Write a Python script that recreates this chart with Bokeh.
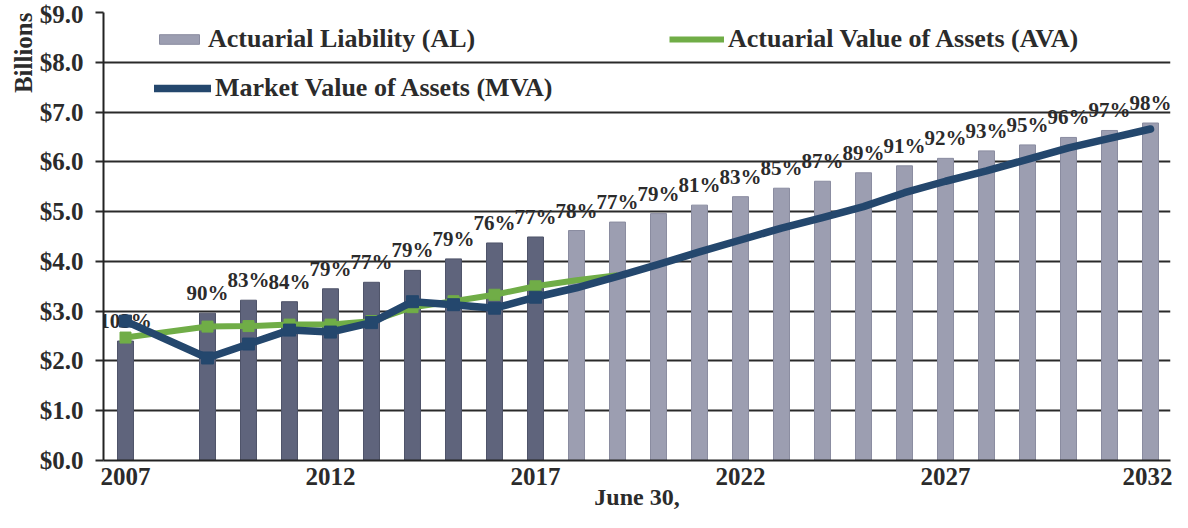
import math
from bokeh.plotting import figure
from bokeh.models import (ColumnDataSource, Range1d, FixedTicker, NumeralTickFormatter,
                          Legend, LegendItem, Title)
from bokeh.core.properties import value
from bokeh.embed import file_html
from bokeh.resources import INLINE

# ---------------- data ----------------
years = [2007, 2009, 2010, 2011, 2012, 2013, 2014, 2015, 2016, 2017, 2018, 2019, 2020,
         2021, 2022, 2023, 2024, 2025, 2026, 2027, 2028, 2029, 2030, 2031, 2032]
al_values = [2.40, 2.96, 3.22, 3.19, 3.45, 3.58, 3.82, 4.05, 4.37, 4.49, 4.62, 4.79, 4.96,
             5.13, 5.30, 5.47, 5.61, 5.78, 5.92, 6.07, 6.22, 6.34, 6.49, 6.63, 6.78]
funded_labels = ["103%", "90%", "83%", "84%", "79%", "77%", "79%", "79%", "76%", "77%",
                 "78%", "77%", "79%", "81%", "83%", "85%", "87%", "89%", "91%", "92%",
                 "93%", "95%", "96%", "97%", "98%"]
mva_values = [2.80, 2.06, 2.34, 2.62, 2.58, 2.77, 3.19, 3.13, 3.06, 3.28, 3.47, 3.70, 3.94,
              4.19, 4.43, 4.67, 4.88, 5.10, 5.38, 5.61, 5.82, 6.05, 6.28, 6.47, 6.66]
ava_years = [2007, 2009, 2010, 2011, 2012, 2013, 2014, 2015, 2016, 2017, 2018, 2019]
ava_values = [2.47, 2.69, 2.70, 2.73, 2.73, 2.80, 3.08, 3.20, 3.33, 3.50, 3.62, 3.72]
last_actual_year = 2017
x_tick_years = [2007, 2012, 2017, 2022, 2027, 2032]
y_ticks = [0, 1, 2, 3, 4, 5, 6, 7, 8, 9]

# ---------------- sources ----------------
hist_idx = [i for i, y in enumerate(years) if y <= last_actual_year]
proj_idx = [i for i, y in enumerate(years) if y > last_actual_year]
src_hist = ColumnDataSource(dict(x=[years[i] for i in hist_idx], al=[al_values[i] for i in hist_idx]))
src_proj = ColumnDataSource(dict(x=[years[i] for i in proj_idx], al=[al_values[i] for i in proj_idx]))
src_lab = ColumnDataSource(dict(x=years, al=al_values, t=funded_labels))
src_mva = ColumnDataSource(dict(x=years, v=mva_values))
src_mva_m = ColumnDataSource(dict(x=[years[i] for i in hist_idx], v=[mva_values[i] for i in hist_idx]))
src_ava = ColumnDataSource(dict(x=ava_years, v=ava_values))
ava_hist = [i for i, y in enumerate(ava_years) if y <= last_actual_year]
src_ava_m = ColumnDataSource(dict(x=[ava_years[i] for i in ava_hist], v=[ava_values[i] for i in ava_hist]))

FONT = "Liberation Serif"
TXT = "#2b2b2b"

p = figure(width=1172, height=512, output_backend="svg", toolbar_location=None,
           x_range=Range1d(2006.4634, 2032.4878), y_range=Range1d(0, 9),
           min_border_left=103, min_border_right=2, min_border_top=12, min_border_bottom=50)
p.outline_line_color = None
p.background_fill_color = "white"
p.border_fill_color = "white"

# grid
p.xgrid.grid_line_color = None
p.ygrid.grid_line_color = "#2a2a2a"
p.ygrid.grid_line_width = 1.8
p.ygrid.ticker = FixedTicker(ticks=y_ticks)

# y axis
p.yaxis.ticker = FixedTicker(ticks=y_ticks)
p.yaxis.formatter = NumeralTickFormatter(format="$0.0")
p.yaxis.axis_line_color = "#222222"
p.yaxis.axis_line_width = 2
p.yaxis.major_tick_out = 8
p.yaxis.major_tick_in = 0
p.yaxis.major_tick_line_color = "#2a2a2a"
p.yaxis.major_tick_line_width = 1.8
p.yaxis.minor_tick_line_color = None
p.yaxis.major_label_standoff = 12
p.yaxis.major_label_text_font = FONT
p.yaxis.major_label_text_font_style = "bold"
p.yaxis.major_label_text_font_size = "25px"
p.yaxis.major_label_text_color = TXT

# x axis
p.xaxis.ticker = FixedTicker(ticks=x_tick_years)
p.xaxis.axis_line_color = "#222222"
p.xaxis.axis_line_width = 2
p.xaxis.major_tick_out = 0
p.xaxis.major_tick_in = 0
p.xaxis.major_tick_line_color = None
p.xaxis.minor_tick_line_color = None
p.xaxis.major_label_standoff = 7
p.xaxis.major_label_text_font = FONT
p.xaxis.major_label_text_font_style = "bold"
p.xaxis.major_label_text_font_size = "25px"
p.xaxis.major_label_text_color = TXT
p.xaxis.axis_label = "June 30,"
p.xaxis.axis_label_standoff = -4
p.xaxis.axis_label_text_font = FONT
p.xaxis.axis_label_text_font_style = "bold"
p.xaxis.axis_label_text_font_size = "24px"
p.xaxis.axis_label_text_color = TXT

# y "Billions" title at the top-left
p.add_layout(Title(text="Billions", align="right", text_font=FONT, text_font_style="bold",
                   text_font_size="25px", text_color=TXT, standoff=0, offset=0), "left")

# bars
bars_hist = p.vbar(x="x", top="al", width=0.39, bottom=0, source=src_hist,
                   fill_color="#5f647c", line_color="#4f546a", line_width=1)
bars_proj = p.vbar(x="x", top="al", width=0.39, bottom=0, source=src_proj,
                   fill_color="#9c9eb1", line_color="#8a8ca0", line_width=1)

# funded-ratio labels
p.text(x="x", y="al", text="t", source=src_lab, text_font=value(FONT), text_font_style="bold",
       text_font_size="21px", text_align="center", text_baseline="bottom", y_offset=-8,
       text_color=TXT)

# lines
ava_line = p.line(x="x", y="v", source=src_ava, line_color="#70ad47", line_width=6,
                  line_join="round")
p.scatter(x="x", y="v", source=src_ava_m, marker="square", size=11, fill_color="#70ad47",
          line_color="#70ad47")
mva_line = p.line(x="x", y="v", source=src_mva, line_color="#24476d", line_width=7.5,
                  line_join="round", line_cap="round")
p.scatter(x="x", y="v", source=src_mva_m, marker="square", size=12, fill_color="#24476d",
          line_color="#24476d")

# legends
def make_legend(label, rend, loc, gw, gh):
    lg = Legend(items=[LegendItem(label=label, renderers=[rend])], location=loc,
                orientation="horizontal", padding=0, margin=0, spacing=0,
                border_line_color=None, background_fill_alpha=0,
                glyph_width=gw, glyph_height=gh, label_standoff=4,
                label_text_font=FONT, label_text_font_style="bold",
                label_text_font_size="26px", label_text_color=TXT)
    p.add_layout(lg, "center")
    return lg

make_legend("Actuarial Liability (AL)", bars_proj, (51, 406), 50, 12)
make_legend("Actuarial Value of Assets (AVA)", ava_line, (566, 406), 55, 30)
make_legend("Market Value of Assets (MVA)", mva_line, (51, 357), 57, 30)

open("out.html", "w").write(file_html(p, INLINE))
